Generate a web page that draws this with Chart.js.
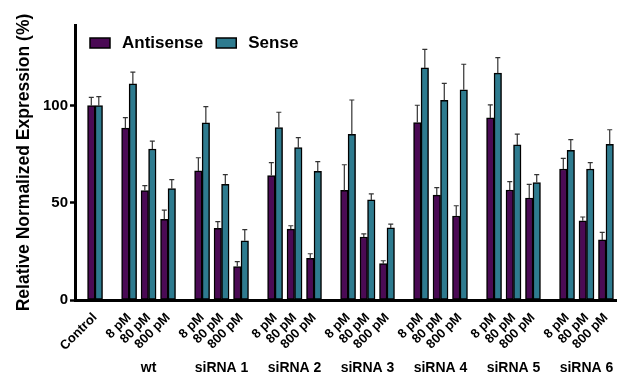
<!DOCTYPE html>
<html>
<head>
<meta charset="utf-8">
<script src="https://cdn.jsdelivr.net/npm/chart.js@4.4.1/dist/chart.umd.min.js"></script>
<style>
  html, body { margin: 0; padding: 0; background: #fff; }
  #wrap { width: 627px; height: 377px; }
</style>
</head>
<body>
<div id="wrap"><canvas id="chart" width="627" height="377"></canvas></div>
<script>
const FONT = "'Liberation Sans', Arial, sans-serif";

// categories
const groups = ["wt", "siRNA 1", "siRNA 2", "siRNA 3", "siRNA 4", "siRNA 5", "siRNA 6"];
const doses = ["8 pM", "80 pM", "800 pM"];
const tickLabels = ["Control"].concat(...groups.map(() => doses));

// series values (Control first, then 8/80/800 pM per group)
const antisense    = [100, 88.4, 56.3, 41.5, 66.4, 36.9, 17.2, 64.0, 36.5, 21.4, 56.4, 32.4, 18.7, 91.3, 54.0, 43.2, 93.7, 56.6, 52.5, 67.4, 40.8, 30.9];
const antisenseErr = [4.3, 5.4, 2.5, 4.7, 6.8, 3.4, 2.5, 6.7, 1.7, 2.4, 13.2, 1.6, 1.5, 8.9, 3.8, 5.3, 6.7, 4.3, 7.0, 5.5, 1.9, 3.9];
const sense        = [100, 111.2, 77.7, 57.3, 91.1, 59.5, 30.5, 88.7, 78.4, 66.2, 85.3, 51.5, 37.1, 119.4, 102.8, 108.2, 116.7, 79.8, 60.4, 77.0, 67.4, 80.1];
const senseErr     = [4.6, 6.1, 4.0, 4.6, 8.4, 5.0, 5.7, 7.9, 5.1, 5.0, 17.6, 3.1, 1.9, 9.6, 8.7, 13.1, 8.0, 5.5, 4.1, 5.5, 3.3, 7.5];

// y ticks
const yTicks = [0, 50, 100];

// x position of each category: control, then groups of three with a gap between
const positions = [0];
groups.forEach((g, gi) => doses.forEach((d, di) => positions.push(1.75 + gi * 3.75 + di)));

const toPoints = (vals) => vals.map((v, i) => ({ x: positions[i], y: v }));

const errorBars = {
  id: "errorBars",
  afterDatasetsDraw(chart) {
    const ctx = chart.ctx;
    const y = chart.scales.y;
    const errs = [antisenseErr, senseErr];
    ctx.save();
    ctx.strokeStyle = "#333";
    ctx.lineWidth = 1.2;
    chart.data.datasets.forEach((ds, di) => {
      chart.getDatasetMeta(di).data.forEach((bar, i) => {
        const top = y.getPixelForValue(ds.data[i].y + errs[di][i]);
        ctx.beginPath();
        ctx.moveTo(bar.x, bar.y);
        ctx.lineTo(bar.x, top);
        ctx.moveTo(bar.x - 2.5, top);
        ctx.lineTo(bar.x + 2.5, top);
        ctx.stroke();
      });
    });
    ctx.restore();
  }
};

// legend drawn inside the plot area, in one row
const insideLegend = {
  id: "insideLegend",
  afterDraw(chart) {
    const ctx = chart.ctx;
    const area = chart.chartArea;
    let x = area.left + 15;
    const cy = area.top + 18;
    ctx.save();
    ctx.font = "bold 17px " + FONT;
    ctx.textBaseline = "middle";
    chart.data.datasets.forEach((ds) => {
      ctx.fillStyle = ds.backgroundColor;
      ctx.fillRect(x, cy - 5, 20, 10);
      ctx.strokeStyle = "#000";
      ctx.lineWidth = 1.5;
      ctx.strokeRect(x, cy - 5, 20, 10);
      ctx.fillStyle = "#000";
      ctx.fillText(ds.label, x + 32, cy);
      x += 32 + ctx.measureText(ds.label).width + 13;
    });
    ctx.restore();
  }
};

const groupLabels = {
  id: "groupLabels",
  afterDraw(chart) {
    const ctx = chart.ctx;
    const x = chart.scales.x;
    ctx.save();
    ctx.font = "bold 14px " + FONT;
    ctx.fillStyle = "#000";
    ctx.textAlign = "center";
    ctx.textBaseline = "middle";
    groups.forEach((g, gi) => {
      ctx.fillText(g, x.getPixelForValue(positions[2 + gi * 3]), 368);
    });
    ctx.restore();
  }
};

new Chart(document.getElementById("chart"), {
  type: "bar",
  data: {
    datasets: [
      {
        label: "Antisense",
        data: toPoints(antisense),
        backgroundColor: "#4B0A55",
        borderColor: "#000",
        borderWidth: 1.5,
        borderSkipped: false,
        barThickness: 7.5,
      },
      {
        label: "Sense",
        data: toPoints(sense),
        backgroundColor: "#2E7B8F",
        borderColor: "#000",
        borderWidth: 1.5,
        borderSkipped: false,
        barThickness: 7.5,
      },
    ],
  },
  options: {
    responsive: false,
    animation: false,
    layout: { padding: { top: 25, right: 0, left: 0, bottom: 0 } },
    plugins: {
      tooltip: { enabled: false },
      legend: { display: false },
    },
    scales: {
      x: {
        type: "linear",
        offset: false,
        min: -1.03,
        max: 26.8,
        grid: { display: false, drawTicks: false },
        border: { color: "#000", width: 3 },
        afterBuildTicks: (scale) => { scale.ticks = positions.map((v) => ({ value: v })); },
        afterFit: (scale) => { scale.height = 77; },
        ticks: {
          autoSkip: false,
          minRotation: 45,
          maxRotation: 45,
          padding: 10,
          color: "#000",
          font: { family: FONT, size: 13, weight: "bold" },
          callback: (v) => tickLabels[positions.indexOf(v)],
        },
      },
      y: {
        min: 0,
        max: 141.5,
        afterBuildTicks: (scale) => { scale.ticks = yTicks.map((v) => ({ value: v })); },
        afterFit: (scale) => { scale.width = 75; },
        grid: { drawOnChartArea: false, tickLength: 5, tickColor: "#000", tickWidth: 2.5 },
        border: { color: "#000", width: 3 },
        ticks: {
          padding: 2,
          color: "#000",
          font: { family: FONT, size: 15, weight: "bold" },
        },
        title: {
          display: true,
          text: "Relative Normalized Expression (%)",
          color: "#000",
          padding: { top: 14, bottom: 0 },
          font: { family: FONT, size: 17.5, weight: "bold" },
        },
      },
    },
  },
  plugins: [errorBars, insideLegend, groupLabels],
});
</script>
</body>
</html>
